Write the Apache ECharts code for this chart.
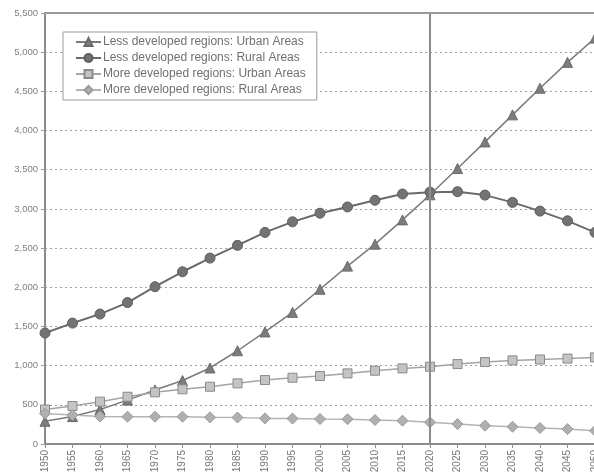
<!DOCTYPE html>
<html>
<head>
<meta charset="utf-8">
<script src="https://cdn.jsdelivr.net/npm/echarts@6/dist/echarts.min.js"></script>
<style>
  html, body { margin: 0; padding: 0; background: #fff; }
  #chart { width: 594px; height: 474px; }
</style>
</head>
<body>
<div id="chart"></div>
<script>
// Urban and rural population (millions), 1950-2050
const years = ['1950','1955','1960','1965','1970','1975','1980','1985','1990','1995','2000',
               '2005','2010','2015','2020','2025','2030','2035','2040','2045','2050'];

const lessUrban = [290, 350, 440, 560, 690, 810, 970, 1190, 1430, 1680, 1975,
                   2270, 2550, 2860, 3180, 3515, 3855, 4200, 4540, 4870, 5180];
const lessRural = [1416, 1543, 1658, 1805, 2007, 2198, 2372, 2535, 2700, 2835, 2945,
                   3025, 3110, 3190, 3214, 3220, 3176, 3083, 2972, 2848, 2700];
const moreUrban = [440, 485, 540, 603, 659, 698, 731, 774, 816, 846, 867,
                   901, 935, 965, 986, 1020, 1046, 1067, 1078, 1090, 1105];
const moreRural = [390, 370, 352, 349, 349, 348, 340, 338, 327, 325, 319,
                   317, 306, 298, 277, 255, 234, 220, 204, 190, 168];

const seriesNames = [
  'Less developed regions: Urban Areas',
  'Less developed regions: Rural Areas',
  'More developed regions: Urban Areas',
  'More developed regions: Rural Areas'
];

const yTicks = { min: 0, max: 5500, interval: 500 };
const markerYear = '2020';

const font = 'Liberation Sans, Arial, sans-serif';

function lineSeries(name, data, symbol, size, lineColor, fill, border, width) {
  return {
    name: name,
    type: 'line',
    data: data,
    symbol: symbol,
    symbolSize: size,
    showAllSymbol: true,
    lineStyle: { color: lineColor, width: width },
    itemStyle: { color: fill, borderColor: border, borderWidth: 1 },
    emphasis: { disabled: true },
    animation: false
  };
}

const series = [
  lineSeries(seriesNames[0], lessUrban, 'triangle', 10, '#7a7a7a', '#7c7c7c', '#6a6a6a', 1.5),
  lineSeries(seriesNames[1], lessRural, 'circle', 10, '#6a6a6a', '#737373', '#5e5e5e', 2),
  lineSeries(seriesNames[2], moreUrban, 'rect', 9, '#a4a4a4', '#c4c4c4', '#8a8a8a', 1.5),
  lineSeries(seriesNames[3], moreRural, 'diamond', 11, '#b4b4b4', '#b0b0b0', '#9a9a9a', 1.5)
];

// vertical reference line at 2020 and solid top border of the plot
series[0].markLine = {
  silent: true,
  symbol: 'none',
  label: { show: false },
  lineStyle: { color: '#8c8c8c', type: 'solid', width: 2 },
  data: [{ xAxis: markerYear }]
};
series[1].markLine = {
  silent: true,
  symbol: 'none',
  label: { show: false },
  lineStyle: { color: '#9a9a9a', type: 'solid', width: 2 },
  data: [{ yAxis: yTicks.max }]
};

const chart = echarts.init(document.getElementById('chart'), null, { renderer: 'canvas' });
chart.setOption({
  backgroundColor: '#ffffff',
  animation: false,
  textStyle: { fontFamily: font },
  grid: { left: 45, top: 13, right: -1, bottom: 30, containLabel: false, outerBoundsMode: 'none' },
  legend: {
    left: 63, top: 32,
    orient: 'vertical',
    itemWidth: 25, itemHeight: 10, itemGap: 4,
    padding: [4, 11, 4, 12],
    borderColor: '#9a9a9a', borderWidth: 1,
    backgroundColor: '#ffffff',
    textStyle: { fontFamily: font, fontSize: 12, color: '#707070', padding: [0, 0, 0, -3] },
    data: seriesNames
  },
  xAxis: {
    type: 'category',
    data: years,
    boundaryGap: false,
    axisLine: { lineStyle: { color: '#8c8c8c', width: 2 } },
    axisTick: { show: true, alignWithLabel: true, length: 4, lineStyle: { color: '#8c8c8c' } },
    axisLabel: { rotate: 90, interval: 0, fontSize: 10, color: '#777', margin: 6, fontFamily: font },
    splitLine: { show: false }
  },
  yAxis: {
    type: 'value',
    min: yTicks.min, max: yTicks.max, interval: yTicks.interval,
    axisLine: { show: true, lineStyle: { color: '#8c8c8c', width: 2 } },
    axisTick: { show: true, length: 4, lineStyle: { color: '#9a9a9a' } },
    axisLabel: {
      fontSize: 9.5, color: '#808080', margin: 7, fontFamily: font,
      formatter: v => v.toLocaleString('en-US')
    },
    splitLine: { show: true, lineStyle: { color: '#a0a0a0', type: [2, 3], width: 1 } }
  },
  series: series
});
</script>
</body>
</html>
